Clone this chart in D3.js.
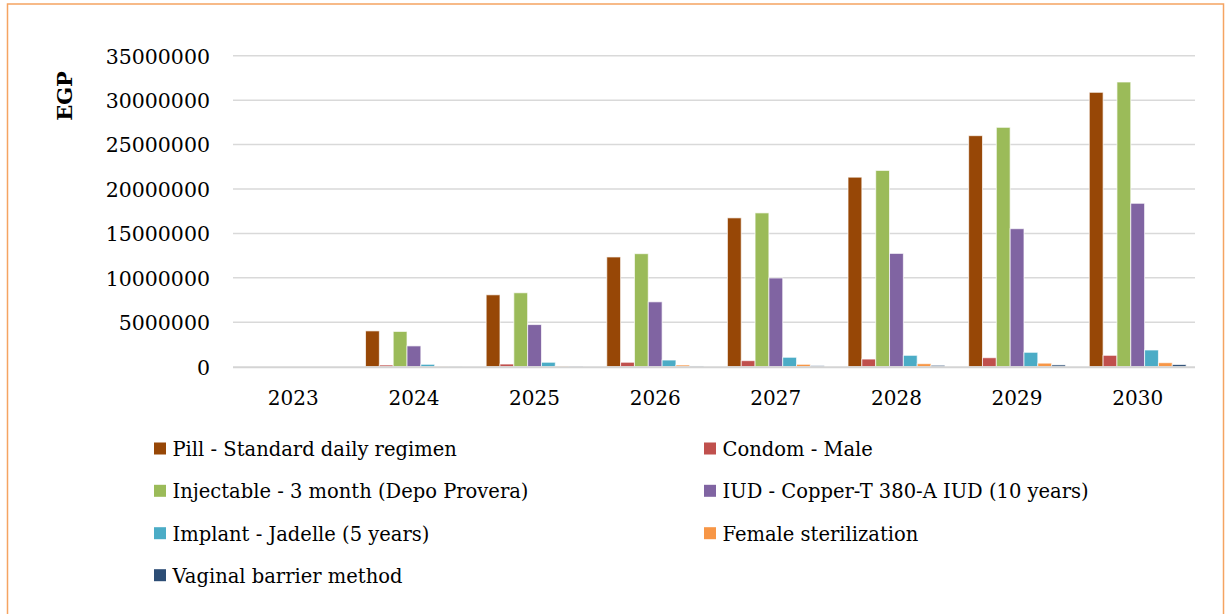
<!DOCTYPE html>
<html>
<head>
<meta charset="utf-8">
<script src="https://cdn.jsdelivr.net/npm/d3@7"></script>
<style>
  html, body { margin: 0; padding: 0; background: #fff; }
  svg { display: block; }
  text { font-family: "DejaVu Serif", "Liberation Serif", serif; fill: #000; }
</style>
</head>
<body>
<svg id="chart" width="1226" height="614"></svg>
<script>
// Annual commodity cost by contraceptive method, in EGP
const years = ["2023", "2024", "2025", "2026", "2027", "2028", "2029", "2030"];
const yTicks = [0, 5000000, 10000000, 15000000, 20000000, 25000000, 30000000, 35000000];

const seriesNames = [
  "Pill - Standard daily regimen",
  "Condom - Male",
  "Injectable - 3 month (Depo Provera)",
  "IUD - Copper-T 380-A IUD (10 years)",
  "Implant - Jadelle (5 years)",
  "Female sterilization",
  "Vaginal barrier method"
];
const seriesColors = ["#974706", "#C0504D", "#9BBB59", "#8064A2", "#4BACC6", "#F79646", "#2C4D75"];

const pill       = [0, 4030000, 8090000, 12350000, 16750000, 21330000, 26000000, 30880000];
const condom     = [0,  190000,  300000,   500000,   680000,   860000,  1010000,  1280000];
const injectable = [0, 3970000, 8320000, 12720000, 17310000, 22090000, 26940000, 32040000];
const iud        = [0, 2340000, 4740000,  7300000,  9980000, 12750000, 15530000, 18390000];
const implant    = [0,  270000,  500000,   750000,  1060000,  1280000,  1620000,  1880000];
const femaleSter = [0,   30000,   80000,   190000,   270000,   340000,   400000,   450000];
const vaginal    = [0,   20000,   50000,    80000,   120000,   160000,   200000,   240000];

const seriesValues = [pill, condom, injectable, iud, implant, femaleSter, vaginal];

const svg = d3.select("#chart");

// outer frame
svg.append("rect")
  .attr("x", 7.5).attr("y", 4)
  .attr("width", 1216).attr("height", 640)
  .attr("fill", "none")
  .attr("stroke", "#F5A462")
  .attr("stroke-width", 1.5);

const plot = { left: 233, right: 1198, top: 55.7, bottom: 366.7 };

const x0 = d3.scaleBand().domain(years).range([plot.left, plot.right]).padding(0);
const x1 = d3.scaleBand().domain(d3.range(seriesNames.length))
  .range([0, x0.bandwidth()]).paddingInner(0).paddingOuter(0.86);
const y = d3.scaleLinear().domain([0, 35000000]).range([plot.bottom, plot.top]);

// horizontal gridlines
svg.append("g")
  .selectAll("line")
  .data(yTicks.filter(d => d > 0))
  .join("line")
  .attr("x1", plot.left).attr("x2", plot.right - 3)
  .attr("y1", d => y(d)).attr("y2", d => y(d))
  .attr("stroke", "#D9D9D9").attr("stroke-width", 1.5);

// y axis labels
const yAxis = d3.axisLeft(y).tickValues(yTicks).tickFormat(d3.format("d")).tickSize(0).tickPadding(0);
const gy = svg.append("g").attr("transform", `translate(${plot.left - 23},0)`).call(yAxis);
gy.select(".domain").remove();
gy.selectAll("text")
  .style("font-family", '"DejaVu Serif", serif')
  .style("font-size", "20.5px")
  .attr("fill", "#000")
  .attr("dy", "0.36em");

// bars
const groups = svg.append("g")
  .selectAll("g")
  .data(years)
  .join("g")
  .attr("transform", d => `translate(${x0(d)},0)`);

groups.selectAll("rect")
  .data((d, i) => seriesValues.map((vals, s) => ({ s, v: vals[i] })))
  .join("rect")
  .attr("x", d => x1(d.s))
  .attr("width", x1.bandwidth())
  .attr("y", d => y(d.v))
  .attr("height", d => y(0) - y(d.v))
  .attr("fill", d => seriesColors[d.s])
  .attr("stroke", "#fff")
  .attr("stroke-opacity", 0.7)
  .attr("stroke-width", 1);

// category axis
svg.append("line")
  .attr("x1", plot.left).attr("x2", plot.right - 3)
  .attr("y1", plot.bottom + 0.5).attr("y2", plot.bottom + 0.5)
  .attr("stroke", "#D4D4D4").attr("stroke-width", 2);

const xAxis = d3.axisBottom(x0).tickSize(0).tickPadding(0);
const gx = svg.append("g").attr("transform", `translate(0,${plot.bottom})`).call(xAxis);
gx.select(".domain").remove();
gx.selectAll("text")
  .style("font-family", '"DejaVu Serif", serif')
  .style("font-size", "20px")
  .attr("fill", "#000")
  .attr("y", 38)
  .attr("dy", 0);

// y axis title
svg.append("text")
  .attr("transform", "translate(72,96) rotate(-90)")
  .attr("text-anchor", "middle")
  .style("font-size", "21px")
  .style("font-weight", "bold")
  .text("EGP");

// legend, two columns filled row by row
const legendCols = [154, 704];
const legendRowY = [456, 498.3, 540.7, 582.7];
const legend = svg.append("g")
  .selectAll("g")
  .data(seriesNames)
  .join("g")
  .attr("transform", (d, i) => `translate(${legendCols[i % 2]},${legendRowY[Math.floor(i / 2)]})`);

legend.append("rect")
  .attr("x", 0).attr("y", -13.5)
  .attr("width", 12).attr("height", 12)
  .attr("fill", (d, i) => seriesColors[i]);

legend.append("text")
  .attr("x", 18.5).attr("y", 0)
  .style("font-size", "19.5px")
  .text(d => d);
</script>
</body>
</html>
